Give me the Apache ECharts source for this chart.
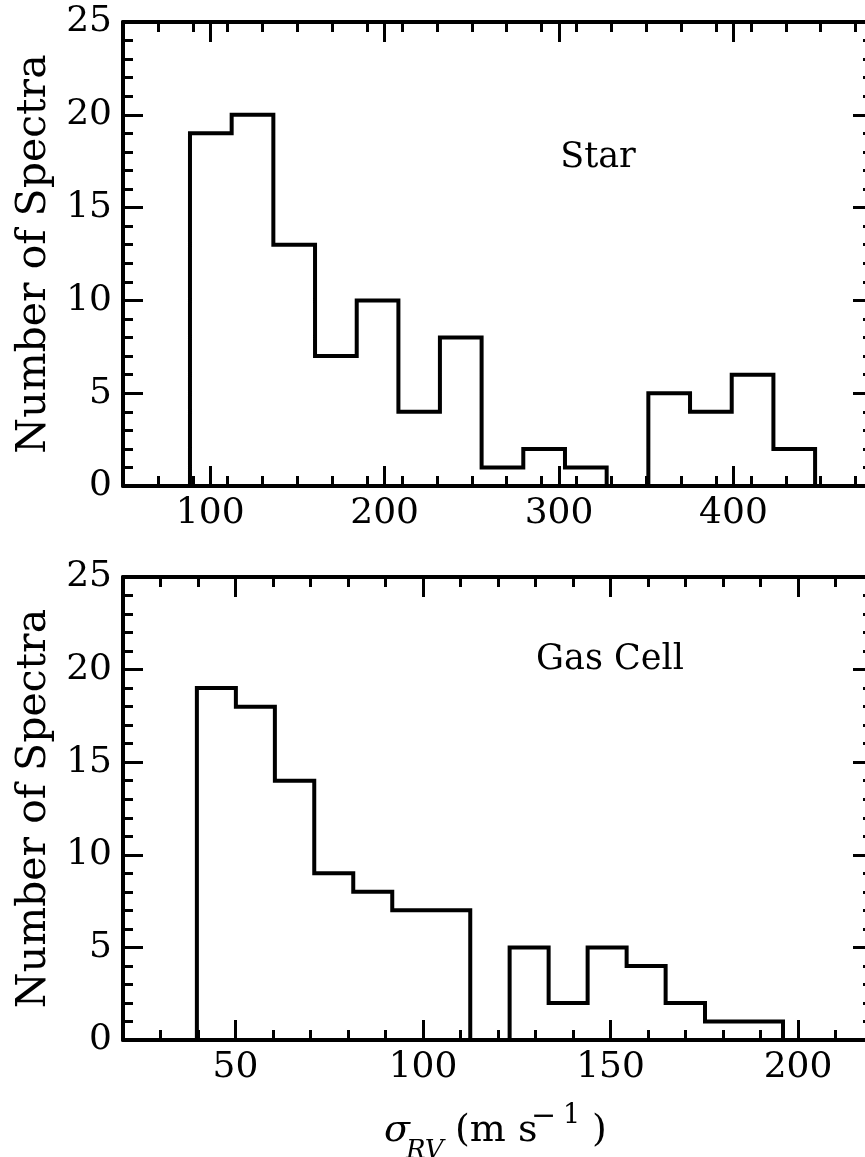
<!DOCTYPE html>
<html>
<head>
<meta charset="utf-8">
<script src="https://cdn.jsdelivr.net/npm/echarts@6/dist/echarts.min.js"></script>
<style>
html,body{margin:0;padding:0;background:#fff;}
#chart{width:865px;height:1157px;}
</style>
</head>
<body>
<div id="chart"></div>
<script>
// ---- Data ----
const starEdges = [88.4,112.3,136.2,160.1,184.0,207.9,231.7,255.6,279.5,303.4,327.3,351.2,375.1,399.0,422.9,446.8];
const starCounts = [19,20,13,7,10,4,8,1,2,1,0,5,4,6,2];
const gasEdges = [39.7,50.1,60.5,71.0,81.4,91.8,102.2,112.6,123.1,133.5,143.9,154.3,164.7,175.2,185.6,196.0];
const gasCounts = [19,18,14,9,8,7,7,0,5,2,5,4,2,1,1];

// ---- Axis ticks ----
const starXRange = [50, 480];
const gasXRange = [20, 220];
const yRange = [0, 25];
const starXTicks = [100, 200, 300, 400];
const gasXTicks = [50, 100, 150, 200];
const yTicks = [0, 5, 10, 15, 20, 25];
const starXMinorStep = 20;
const gasXMinorStep = 10;
const yMinorStep = 1;

const FONT = '"DejaVu Serif", serif';

function minorValues(range, step, majors) {
  const out = [];
  const n = Math.round((range[1] - range[0]) / step);
  for (let i = 0; i <= n; i++) {
    const v = +(range[0] + i * step).toFixed(6);
    if (!majors.some(m => Math.abs(m - v) < 1e-6)) out.push(v);
  }
  return out;
}

function stepPoints(edges, counts) {
  const pts = [[edges[0], 0]];
  for (let i = 0; i < counts.length; i++) {
    pts.push([edges[i], counts[i]]);
    pts.push([edges[i + 1], counts[i]]);
  }
  pts.push([edges[edges.length - 1], 0]);
  return pts;
}

function axis(kind, gridIndex, position, range, values, len, showLine, showLabels, extra) {
  const a = {
    type: 'value', gridIndex, position, min: range[0], max: range[1],
    splitLine: {show: false},
    axisLine: {show: showLine, onZero: false, lineStyle: {color: '#000', width: 4}},
    axisTick: {show: true, inside: true, length: len, customValues: values, lineStyle: {color: '#000', width: 3}},
    axisLabel: {show: showLabels, customValues: values, color: '#000', fontFamily: FONT, fontSize: 36, margin: kind === 'x' ? 10 : 11},
    minorTick: {show: false},
    z: 5
  };
  return Object.assign(a, extra || {});
}

const grids = [
  {left: 123, top: 22, width: 750, height: 464, outerBoundsMode: 'none', containLabel: false},
  {left: 123, top: 577, width: 750, height: 463, outerBoundsMode: 'none', containLabel: false}
];

const xAxes = [];
const yAxes = [];
const series = [];
const panels = [
  {xr: starXRange, xt: starXTicks, xs: starXMinorStep, edges: starEdges, counts: starCounts},
  {xr: gasXRange, xt: gasXTicks, xs: gasXMinorStep, edges: gasEdges, counts: gasCounts}
];
panels.forEach((p, g) => {
  const xMin = minorValues(p.xr, p.xs, p.xt);
  const yMin = minorValues(yRange, yMinorStep, yTicks);
  const xi = xAxes.length, yi = yAxes.length;
  xAxes.push(axis('x', g, 'bottom', p.xr, p.xt, 20, true, true));
  xAxes.push(axis('x', g, 'bottom', p.xr, xMin, 10, false, false));
  xAxes.push(axis('x', g, 'top', p.xr, p.xt, 20, true, false));
  xAxes.push(axis('x', g, 'top', p.xr, xMin, 10, false, false));
  yAxes.push(axis('y', g, 'left', yRange, yTicks, 20, true, true, {
    name: 'Number of Spectra', nameLocation: 'middle', nameGap: 67,
    nameTextStyle: {fontFamily: FONT, fontSize: 41, color: '#000'}
  }));
  yAxes.push(axis('y', g, 'left', yRange, yMin, 10, false, false));
  yAxes.push(axis('y', g, 'right', yRange, yTicks, 20, true, false));
  yAxes.push(axis('y', g, 'right', yRange, yMin, 10, false, false));
  series.push({
    type: 'line', xAxisIndex: xi, yAxisIndex: yi,
    data: stepPoints(p.edges, p.counts),
    symbol: 'none', showSymbol: false, clip: true,
    lineStyle: {color: '#000', width: 4, join: 'miter', cap: 'butt'},
    z: 1
  });
});

const chart = echarts.init(document.getElementById('chart'), null, {renderer: 'canvas'});
chart.setOption({
  backgroundColor: '#fff',
  animation: false,
  grid: grids,
  xAxis: xAxes,
  yAxis: yAxes,
  series: series,
  graphic: [
    {type: 'text', style: {text: 'Star', font: '35px ' + FONT, fill: '#000', x: 598, y: 158, align: 'center', verticalAlign: 'middle'}},
    {type: 'text', style: {text: 'Gas Cell', font: '35px ' + FONT, fill: '#000', x: 610, y: 660, align: 'center', verticalAlign: 'middle'}},
    {type: 'text', style: {text: 'σ', font: 'italic 38px ' + FONT, fill: '#000', x: 384, y: 1131, align: 'left', verticalAlign: 'middle'}},
    {type: 'text', style: {text: 'RV', font: 'italic 26px ' + FONT, fill: '#000', x: 406, y: 1151, align: 'left', verticalAlign: 'middle'}},
    {type: 'text', style: {text: '(m s', font: '38px ' + FONT, fill: '#000', x: 455, y: 1131, align: 'left', verticalAlign: 'middle'}},
    {type: 'text', style: {text: '−', font: '30px ' + FONT, fill: '#000', x: 531, y: 1117, align: 'left', verticalAlign: 'middle'}},
    {type: 'text', style: {text: '1', font: '27px ' + FONT, fill: '#000', x: 563, y: 1116, align: 'left', verticalAlign: 'middle'}},
    {type: 'text', style: {text: ')', font: '38px ' + FONT, fill: '#000', x: 592, y: 1131, align: 'left', verticalAlign: 'middle'}}
  ]
});
</script>
</body>
</html>
